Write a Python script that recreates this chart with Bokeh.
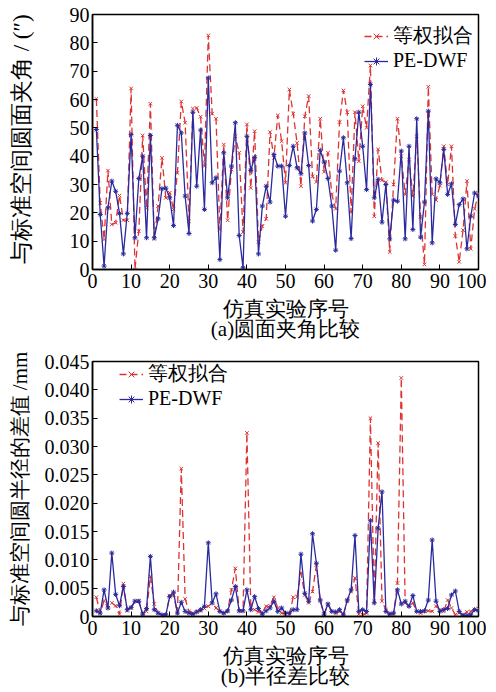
from bokeh.plotting import figure
from bokeh.layouts import column
from bokeh.models import FixedTicker, Legend, LegendItem, PrintfTickFormatter
from bokeh.embed import file_html
from bokeh.resources import INLINE

# ---------------- data ----------------
trial = list(range(1, 101))

angle_equal = [60.2, 23.5, 10.6, 34.9, 15.9, 16.5, 26.1, 17.4, 17.4, 63.9,
               0.0, 13.5, 47.3, 21.6, 58.5, 10.8, 22.4, 39.4, 25.3, 27.1,
               21.2, 34.1, 59.3, 51.8, 17.0, 56.8, 57.0, 53.9, 36.5, 82.6,
               55.0, 53.2, 14.1, 44.1, 17.4, 35.3, 47.0, 41.2, 13.2, 51.2,
               28.8, 48.8, 9.8, 15.3, 17.9, 48.5, 39.4, 54.4, 45.3, 30.6,
               63.5, 55.0, 44.7, 29.4, 54.1, 61.2, 32.9, 30.9, 53.2, 34.5,
               41.2, 26.5, 21.4, 52.0, 63.2, 55.5, 20.2, 55.5, 38.2, 57.6,
               50.0, 72.0, 18.8, 42.4, 31.5, 30.8, 6.2, 30.0, 53.2, 40.0,
               26.5, 38.8, 25.9, 47.0, 18.6, 1.8, 64.5, 26.5, 24.5, 29.6,
               43.5, 30.0, 43.5, 11.8, 2.7, 13.9, 31.2, 7.3, 21.4, 27.0]

angle_pedwf = [49.4, 19.4, 1.2, 21.8, 31.2, 27.6, 19.8, 5.5, 19.8, 47.6,
               11.2, 32.1, 40.0, 11.2, 47.3, 11.2, 17.9, 28.5, 28.7, 25.3,
               15.5, 50.9, 48.2, 25.9, 12.7, 55.5, 29.4, 49.2, 21.2, 67.6,
               30.6, 32.4, 3.5, 41.2, 25.3, 36.5, 51.8, 12.0, 0.6, 47.0,
               35.0, 39.6, 5.5, 22.4, 29.4, 23.8, 40.6, 36.5, 36.5, 18.8,
               36.7, 43.5, 35.9, 33.8, 48.2, 36.7, 17.1, 21.2, 42.1, 37.9,
               32.1, 22.4, 6.8, 34.7, 46.5, 30.6, 10.9, 39.1, 55.5, 43.5,
               28.2, 65.3, 25.3, 31.8, 16.7, 30.0, 10.8, 24.5, 24.1, 41.8,
               10.8, 43.5, 14.1, 53.2, 11.4, 23.8, 55.9, 9.4, 32.0, 30.6,
               42.4, 26.5, 30.2, 15.9, 22.9, 24.9, 7.3, 18.8, 27.0, 25.9]

radius_equal = [0.0034, 0.0006, 0.0028, 0.0015, 0.0024, 0.0019, 0.0004, 0.0058, 0.0010, 0.0015,
                0.0027, 0.0028, 0.0004, 0.0009, 0.0071, 0.0022, 0.0006, 0.0003, 0.0002, 0.0037,
                0.0038, 0.0006, 0.0261, 0.0031, 0.0009, 0.0006, 0.0009, 0.0010, 0.0014, 0.0018,
                0.0024, 0.0015, 0.0009, 0.0006, 0.0009, 0.0047, 0.0085, 0.0010, 0.0010, 0.0324,
                0.0021, 0.0012, 0.0008, 0.0008, 0.0018, 0.0019, 0.0034, 0.0015, 0.0006, 0.0004,
                0.0003, 0.0034, 0.0035, 0.0077, 0.0038, 0.0024, 0.0044, 0.0091, 0.0027, 0.0004,
                0.0021, 0.0009, 0.0006, 0.0009, 0.0004, 0.0027, 0.0044, 0.0068, 0.0004, 0.0003,
                0.0006, 0.0350, 0.0027, 0.0306, 0.0027, 0.0012, 0.0006, 0.0004, 0.0059, 0.0421,
                0.0024, 0.0018, 0.0024, 0.0009, 0.0006, 0.0009, 0.0010, 0.0009, 0.0018, 0.0012,
                0.0009, 0.0029, 0.0015, 0.0003, 0.0006, 0.0003, 0.0008, 0.0009, 0.0012, 0.0014]

radius_pedwf = [0.0010, 0.0006, 0.0047, 0.0015, 0.0112, 0.0039, 0.0019, 0.0053, 0.0012, 0.0016,
                0.0027, 0.0027, 0.0004, 0.0014, 0.0106, 0.0012, 0.0006, 0.0003, 0.0003, 0.0035,
                0.0043, 0.0006, 0.0025, 0.0009, 0.0006, 0.0004, 0.0008, 0.0012, 0.0018, 0.0130,
                0.0024, 0.0040, 0.0009, 0.0006, 0.0010, 0.0029, 0.0053, 0.0010, 0.0010, 0.0047,
                0.0012, 0.0035, 0.0014, 0.0004, 0.0010, 0.0015, 0.0027, 0.0009, 0.0015, 0.0006,
                0.0006, 0.0012, 0.0012, 0.0110, 0.0041, 0.0027, 0.0146, 0.0094, 0.0029, 0.0004,
                0.0022, 0.0009, 0.0008, 0.0012, 0.0003, 0.0029, 0.0047, 0.0143, 0.0009, 0.0012,
                0.0009, 0.0169, 0.0024, 0.0156, 0.0220, 0.0009, 0.0004, 0.0006, 0.0047, 0.0022,
                0.0027, 0.0018, 0.0037, 0.0009, 0.0009, 0.0010, 0.0029, 0.0135, 0.0027, 0.0009,
                0.0012, 0.0014, 0.0038, 0.0045, 0.0009, 0.0002, 0.0002, 0.0003, 0.0012, 0.0010]

x_ticks = [0, 10, 20, 30, 40, 50, 60, 70, 80, 90, 100]
angle_ticks = [0, 10, 20, 30, 40, 50, 60, 70, 80, 90]
radius_ticks = [0, 0.005, 0.010, 0.015, 0.020, 0.025, 0.030, 0.035, 0.040, 0.045]

label_equal = "等权拟合"
label_pedwf = "PE-DWF"
x_title = "仿真实验序号"

# ---------------- style ----------------
SERIF = "Liberation Serif"
RED = "#DD3333"
BLUE = "#2A2A9E"
NB = "\u00a0"


def style_axes(p, xlabel, ylabel, ysize, ystandoff):
    for ax in (p.xaxis[0], p.yaxis[0]):
        ax.major_tick_in = 5
        ax.major_tick_out = 0
        ax.minor_tick_line_color = None
        ax.axis_line_color = "black"
        ax.axis_line_width = 1.5
        ax.major_tick_line_color = "black"
        ax.major_label_text_font = SERIF
        ax.major_label_text_font_size = "20px"
        ax.major_label_text_color = "black"
        ax.axis_label_text_font = SERIF
        ax.axis_label_text_font_style = "normal"
        ax.axis_label_text_color = "black"
    p.xaxis[0].ticker = FixedTicker(ticks=x_ticks)
    p.xaxis[0].axis_label = xlabel
    p.xaxis[0].axis_label_text_font_size = "21px"
    p.xaxis[0].axis_label_text_line_height = 0.85
    p.xaxis[0].axis_label_standoff = 6
    p.xaxis[0].major_label_standoff = 4
    p.yaxis[0].axis_label = ylabel
    p.yaxis[0].axis_label_text_font_size = ysize
    p.yaxis[0].axis_label_standoff = ystandoff
    p.yaxis[0].major_label_standoff = 3
    p.xgrid.grid_line_color = None
    p.ygrid.grid_line_color = None
    p.outline_line_color = "black"
    p.outline_line_width = 1.5
    p.background_fill_color = "white"
    p.border_fill_color = "white"


def add_series(p, xs, ya, yb, legend_xy):
    r1 = p.line(xs, ya, line_color=RED, line_width=1.3, line_dash="7 4")
    s1 = p.scatter(xs, ya, marker="x", size=5, line_color=RED, line_width=1)
    r2 = p.line(xs, yb, line_color=BLUE, line_width=1.3)
    s2 = p.scatter(xs, yb, marker="asterisk", size=5, line_color=BLUE, line_width=1)
    leg = Legend(items=[LegendItem(label=label_equal, renderers=[r1, s1]),
                        LegendItem(label=label_pedwf, renderers=[r2, s2])],
                 location=legend_xy)
    leg.border_line_color = None
    leg.background_fill_alpha = 0
    leg.label_text_font = SERIF
    leg.label_text_font_size = "20px"
    leg.label_text_color = "black"
    leg.glyph_width = 24
    leg.glyph_height = 20
    leg.label_height = 20
    leg.label_standoff = 5
    leg.spacing = 0
    leg.padding = 0
    leg.margin = 0
    p.add_layout(leg)


# ---------------- top chart ----------------
p1 = figure(frame_width=386, frame_height=255, x_range=(0, 100), y_range=(0, 90),
            output_backend="svg", toolbar_location=None,
            min_border_left=92, min_border_right=8, min_border_top=14, min_border_bottom=80)
style_axes(p1, x_title + "\n(a)圆面夹角比较", NB + "与标准空间圆面夹角 / (″)", "23px", 33)
p1.yaxis[0].ticker = FixedTicker(ticks=angle_ticks)
add_series(p1, trial, angle_equal, angle_pedwf, (272, 197))

# ---------------- bottom chart ----------------
p2 = figure(frame_width=386, frame_height=255, x_range=(0, 100), y_range=(0, 0.045),
            output_backend="svg", toolbar_location=None,
            min_border_left=92, min_border_right=8, min_border_top=12, min_border_bottom=60)
style_axes(p2, x_title + "\n(b)半径差比较", "与标准空间圆半径的差值 /mm", "21px", 10)
p2.yaxis[0].ticker = FixedTicker(ticks=radius_ticks)
p2.yaxis[0].formatter = PrintfTickFormatter(format="%.3f")
p2.yaxis[0].major_label_overrides = {0: "0"}
add_series(p2, trial, radius_equal, radius_pedwf, (27, 206))

layout = column(p1, p2, spacing=0)
open("out.html", "w").write(file_html(layout, INLINE))
